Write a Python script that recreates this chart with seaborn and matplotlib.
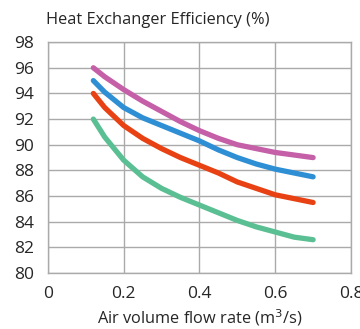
import pandas as pd
import seaborn as sns
import matplotlib.pyplot as plt

# Flow rates (m3/s)
flow = [0.12, 0.15, 0.2, 0.25, 0.3, 0.35, 0.4, 0.45, 0.5, 0.55, 0.6, 0.65, 0.7]

# Efficiency curves (%), top to bottom
eff_magenta = [96.0, 95.3, 94.3, 93.4, 92.6, 91.8, 91.1, 90.5, 90.0, 89.7, 89.4, 89.2, 89.0]
eff_blue = [95.0, 94.1, 92.9, 92.1, 91.5, 90.9, 90.3, 89.6, 89.0, 88.5, 88.1, 87.8, 87.5]
eff_red = [94.0, 92.9, 91.5, 90.5, 89.7, 89.0, 88.4, 87.8, 87.1, 86.6, 86.1, 85.8, 85.5]
eff_green = [92.0, 90.6, 88.8, 87.5, 86.6, 85.9, 85.3, 84.7, 84.1, 83.6, 83.2, 82.8, 82.6]

colors = ["#c45fa8", "#2e8fd4", "#e84214", "#5bbf94"]

sns.set_style("white")
plt.rcParams['font.family'] = ['Open Sans', 'DejaVu Sans']

fig = plt.figure(figsize=(3.6, 3.29), dpi=100)
ax = fig.add_axes([0.133, 0.170, 0.842, 0.702])

for ys, c in zip([eff_magenta, eff_blue, eff_red, eff_green], colors):
    sns.lineplot(x=flow, y=ys, color=c, linewidth=3.8, ax=ax,
                 solid_capstyle="round", solid_joinstyle="round")

ax.set_xlim(0, 0.8)
ax.set_ylim(80, 98)
ax.set_xticks([0, 0.2, 0.4, 0.6, 0.8])
ax.set_xticklabels(["0", "0.2", "0.4", "0.6", "0.8"])
ax.set_yticks(range(80, 99, 2))
ax.grid(True, color="#aaaaaa", linewidth=1)
ax.set_axisbelow(True)
for s in ax.spines.values():
    s.set_color("#aaaaaa")
    s.set_linewidth(1)
ax.tick_params(axis="both", labelsize=12.5, length=0)
ax.tick_params(axis="y", pad=10)
ax.tick_params(axis="x", pad=9)
ax.set_xlabel("Air volume flow rate (m$^3$/s)", fontsize=11.8, labelpad=4)
ax.text(-0.005, 1.06, "Heat Exchanger Efficiency (%)", transform=ax.transAxes,
        fontsize=11.8, ha="left", va="bottom")

fig.savefig("out.png", dpi=100)
